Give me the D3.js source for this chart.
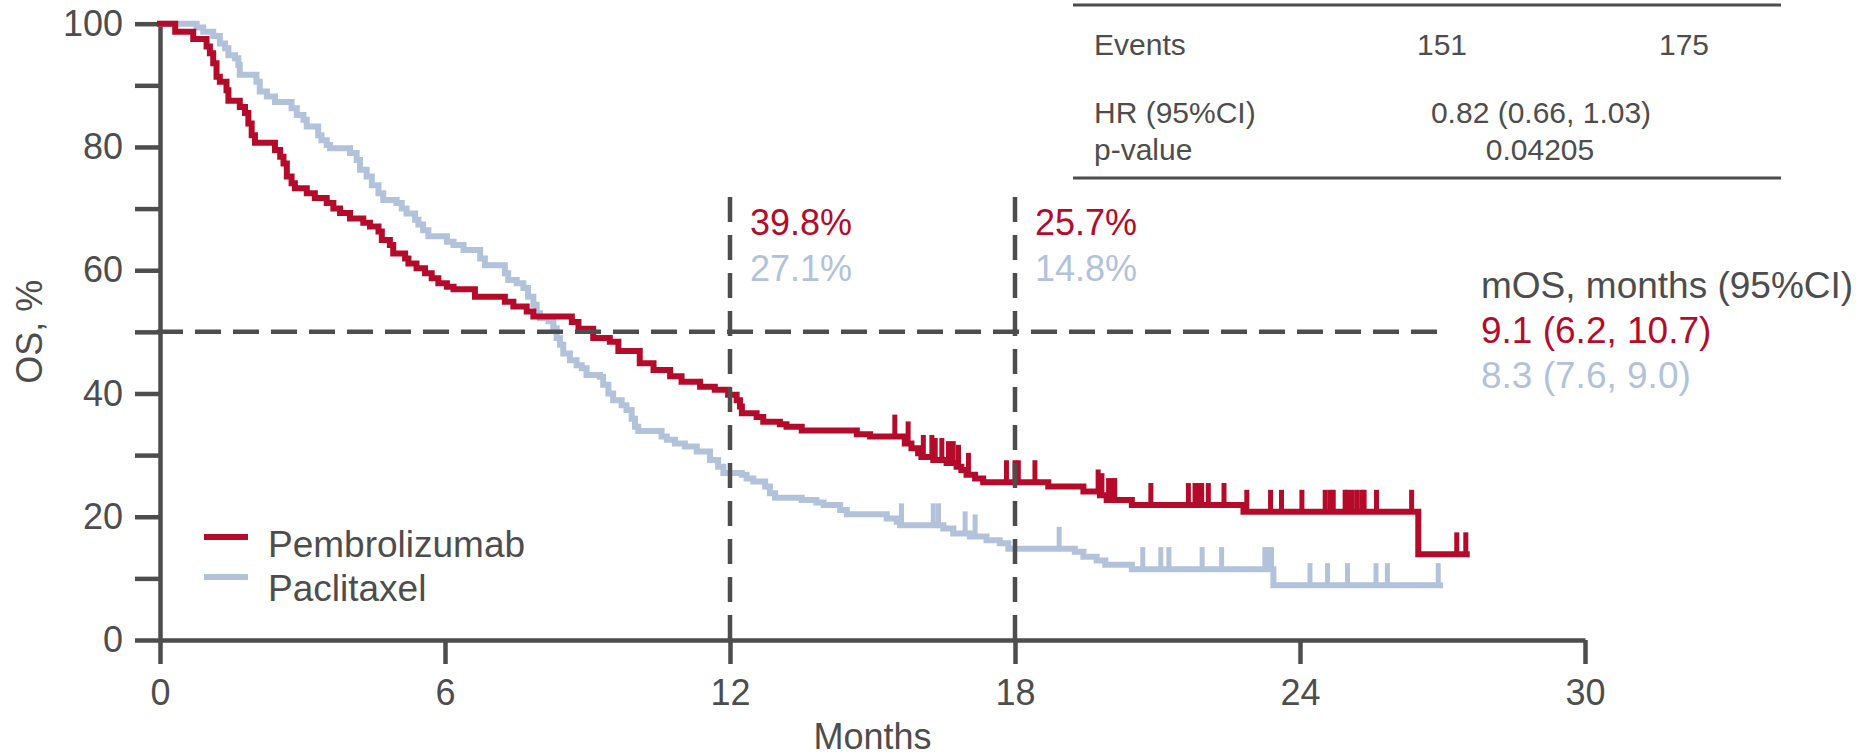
<!DOCTYPE html>
<html>
<head>
<meta charset="utf-8">
<script src="https://cdn.jsdelivr.net/npm/d3@7"></script>
<style>
  html, body { margin: 0; padding: 0; background: #fff; }
  svg { display: block; }
  text { font-family: "Liberation Sans", Arial, Helvetica, sans-serif; }
</style>
</head>
<body>
<svg id="chart" width="1859" height="755"></svg>
<script>
// ---------------- data ----------------
const xTicks = [0, 6, 12, 18, 24, 30];
const yTicks = [0, 10, 20, 30, 40, 50, 60, 70, 80, 90, 100];
const yTickLabels = ["0", "", "20", "", "40", "", "60", "", "80", "", "100"];

const seriesNames = ["Pembrolizumab", "Paclitaxel"];

const pembroTimes = [0, 0.32, 0.70, 0.98, 1.05, 1.12, 1.19, 1.26, 1.40, 1.44, 1.68, 1.79, 1.86, 1.93, 2.00,
  2.42, 2.53, 2.60, 2.67, 2.77, 2.84, 3.09, 3.26, 3.51, 3.65, 3.79, 4.00, 4.28, 4.42, 4.60, 4.67, 4.84,
  4.91, 5.16, 5.23, 5.40, 5.58, 5.72, 5.86, 6.04, 6.18, 6.63, 7.26, 7.44, 7.72, 7.86, 8.67, 8.81, 9.12,
  9.47, 9.65, 10.10, 10.39, 10.74, 10.98, 11.37, 11.68, 11.96, 12.14, 12.21, 12.25, 12.56, 12.70, 13.05,
  13.19, 13.51, 14.67, 14.95, 15.68, 15.82, 15.96, 16.03, 16.28, 16.56, 16.77, 16.87, 16.98, 17.16, 17.33,
  18.70, 19.44, 19.79, 19.93, 20.46, 22.81, 26.49];
const pembroSurv = [100, 98.7, 97.5, 96.3, 95.2, 93.6, 91.4, 90.6, 89.2, 87.5, 86.5, 85.5, 83.8, 81.9, 80.7,
  79.5, 78.4, 77.3, 75.2, 74.1, 73.3, 72.5, 71.7, 70.9, 70.0, 69.3, 68.4, 67.7, 67.1, 66.3, 64.9, 64.1,
  62.7, 61.9, 61.1, 60.3, 59.5, 58.7, 57.9, 57.3, 56.9, 55.7, 54.9, 54.1, 53.3, 52.5, 51.6, 50.5, 49.0,
  48.4, 46.9, 44.9, 43.8, 42.8, 41.9, 41.1, 40.6, 39.8, 38.9, 37.9, 36.8, 36.2, 35.4, 35.0,
  34.6, 34.0, 33.4, 33.0, 31.9, 31.1, 30.3, 29.7, 29.2, 28.7, 28.1, 27.6, 26.8, 26.2, 25.6,
  24.9, 24.1, 23.5, 22.7, 21.9, 20.8, 13.9];
const pembroEnd = 27.51;
const pembroCensor = [15.47, 15.75, 16.07, 16.25, 16.32, 16.46, 16.60, 16.70, 16.81, 17.02, 17.82, 18.00,
  18.07, 18.42, 19.75, 19.83, 19.97, 20.05, 20.10, 20.86, 21.65, 21.79, 21.86, 21.93, 22.07, 22.40, 22.88,
  23.38, 23.61, 24.04, 24.53, 24.63, 24.70, 24.95, 25.00, 25.10, 25.20, 25.30, 25.35, 25.61, 26.35,
  27.30, 27.49];

const paclitTimes = [0, 0.77, 0.91, 1.12, 1.26, 1.37, 1.44, 1.58, 1.65, 1.68, 2.03, 2.10, 2.25, 2.42, 2.77,
  2.88, 3.02, 3.09, 3.33, 3.40, 3.51, 3.58, 4.00, 4.14, 4.21, 4.35, 4.46, 4.60, 4.70, 4.98, 5.09, 5.19,
  5.37, 5.44, 5.54, 5.65, 6.04, 6.18, 6.39, 6.74, 6.84, 7.26, 7.33, 7.51, 7.65, 7.75, 7.86, 7.93, 8.00,
  8.18, 8.28, 8.35, 8.42, 8.49, 8.63, 8.77, 8.88, 8.98, 9.26, 9.33, 9.44, 9.54, 9.72, 9.82, 9.93, 10.00,
  10.07, 10.56, 10.67, 10.84, 11.05, 11.30, 11.58, 11.75, 11.86, 12.25, 12.35, 12.49, 12.74, 12.84, 12.95,
  13.51, 13.82, 13.97, 14.32, 14.46, 15.30, 15.51, 15.58, 16.49, 16.70, 17.05, 17.40, 17.68, 17.86, 19.26,
  19.44, 19.72, 19.90, 20.46, 23.44];
const paclitSurv = [100, 99.4, 98.7, 98.0, 96.8, 96.0, 94.9, 94.4, 93.3, 91.7, 90.6, 89.0, 88.2, 87.3, 86.3,
  85.2, 84.4, 83.3, 81.9, 81.1, 80.3, 79.8, 79.0, 77.9, 76.3, 75.2, 73.8, 72.5, 71.4, 70.9, 70.0, 69.2,
  68.2, 67.4, 66.5, 65.5, 64.6, 64.1, 63.3, 61.9, 60.8, 59.5, 58.4, 57.9, 57.1, 55.7, 54.4, 53.0, 52.2,
  51.7, 50.6, 49.0, 47.9, 46.5, 45.4, 44.6, 44.1, 43.0, 42.7, 41.4, 40.0, 38.9, 38.1, 37.3, 35.9, 34.6,
  33.9, 33.0, 32.5, 31.9, 31.4, 30.6, 29.2, 28.1, 27.1, 26.8, 26.2, 25.7, 24.9, 23.8, 23.1,
  22.7, 22.3, 21.9, 21.1, 20.4, 19.7, 19.2, 18.6, 18.1, 17.3, 16.8, 16.2, 15.7, 14.8, 14.3,
  13.5, 12.9, 12.2, 11.5, 8.9];
const paclitEnd = 26.95;
const paclitCensor = [15.61, 16.28, 16.39, 16.95, 17.16, 18.93, 20.69, 21.07, 21.24, 21.94, 22.35, 23.26,
  23.33, 23.40, 24.21, 24.58, 25.00, 25.60, 25.84, 26.91];

const landmarkMonths = [12, 18];
const landmarkPembro = ["39.8%", "25.7%"];
const landmarkPaclit = ["27.1%", "14.8%"];
const medianLevel = 50;
const mosHeader = "mOS, months (95%CI)";
const mosPembro = "9.1 (6.2, 10.7)";
const mosPaclit = "8.3 (7.6, 9.0)";

const tableRowLabels = ["Events", "HR (95%CI)", "p-value"];
const eventsValues = ["151", "175"];
const hrValue = "0.82 (0.66, 1.03)";
const pValue = "0.04205";

// ---------------- styles ----------------
const RED = "#b50b2b";
const BLUE = "#b2c2db";
const GRAY = "#4d4d4d";
const FS = 36;
const FS_L = 37;

// ---------------- layout ----------------
const svg = d3.select("#chart");
const x = d3.scaleLinear().domain([0, 30]).range([160, 1585]);
const y = d3.scaleLinear().domain([0, 100]).range([640, 23.7]);

// axes
const xAxis = d3.axisBottom(x).tickValues(xTicks).tickSize(24).tickSizeOuter(0).tickPadding(15);
const gx = svg.append("g").attr("transform", "translate(0,640)").call(xAxis);
gx.select(".domain").attr("stroke", GRAY).attr("stroke-width", 4.5);
gx.selectAll(".tick line").attr("stroke", GRAY).attr("stroke-width", 4.5);
gx.selectAll(".tick text").attr("fill", GRAY).style("font-size", FS + "px")
  .style("font-family", '"Liberation Sans", Arial, sans-serif');

const yAxis = d3.axisLeft(y).tickValues(yTicks).tickSize(25).tickSizeOuter(0).tickPadding(12)
  .tickFormat((d, i) => yTickLabels[i]);
const gy = svg.append("g").attr("transform", "translate(160,0)").call(yAxis);
gy.select(".domain").attr("stroke", GRAY).attr("stroke-width", 4.5);
gy.selectAll(".tick line").attr("stroke", GRAY).attr("stroke-width", 4.5);
gy.selectAll(".tick text").attr("fill", GRAY).style("font-size", FS + "px")
  .style("font-family", '"Liberation Sans", Arial, sans-serif');

// axis titles
svg.append("text").attr("x", x(15)).attr("y", 749).attr("text-anchor", "middle")
  .attr("fill", GRAY).style("font-size", FS + "px").text("Months");
svg.append("text").attr("transform", `translate(42,${y(50)}) rotate(-90)`).attr("text-anchor", "middle")
  .attr("fill", GRAY).style("font-size", FS + "px").text("OS, %");

// curves
function survAt(times, surv, t) {
  const i = d3.bisectRight(times, t) - 1;
  return surv[Math.max(0, i)];
}
const line = d3.line().x(d => x(d[0])).y(d => y(d[1])).curve(d3.curveStepAfter);

function drawSeries(times, surv, end, censor, color) {
  const pts = times.map((t, i) => [t, surv[i]]);
  pts.push([end, surv[surv.length - 1]]);
  const g = svg.append("g");
  g.append("path").datum(pts).attr("d", line).attr("fill", "none")
    .attr("stroke", color).attr("stroke-width", 6).attr("stroke-linejoin", "miter").attr("stroke-linecap", "square");
  g.selectAll("line.cens").data(censor).enter().append("line")
    .attr("x1", d => x(d)).attr("x2", d => x(d))
    .attr("y1", d => y(survAt(times, surv, d)) + 2)
    .attr("y2", d => y(survAt(times, surv, d)) - 22)
    .attr("stroke", color).attr("stroke-width", 5);
}
drawSeries(paclitTimes, paclitSurv, paclitEnd, paclitCensor, BLUE);
drawSeries(pembroTimes, pembroSurv, pembroEnd, pembroCensor, RED);

// reference lines
svg.append("line").attr("x1", 157).attr("x2", 1446).attr("y1", y(medianLevel)).attr("y2", y(medianLevel))
  .attr("stroke", GRAY).attr("stroke-width", 4.5).attr("stroke-dasharray", "26,12");
landmarkMonths.forEach((m, i) => {
  svg.append("line").attr("x1", x(m)).attr("x2", x(m)).attr("y1", 197).attr("y2", 640)
    .attr("stroke", GRAY).attr("stroke-width", 4.5).attr("stroke-dasharray", "25,13");
  svg.append("text").attr("x", x(m) + 20).attr("y", 235).attr("fill", RED)
    .style("font-size", FS + "px").text(landmarkPembro[i]);
  svg.append("text").attr("x", x(m) + 20).attr("y", 281).attr("fill", BLUE)
    .style("font-size", FS + "px").text(landmarkPaclit[i]);
});

// median text
svg.append("text").attr("x", 1481).attr("y", 298).attr("fill", GRAY).style("font-size", FS_L + "px").text(mosHeader);
svg.append("text").attr("x", 1481).attr("y", 343).attr("fill", RED).style("font-size", FS_L + "px").text(mosPembro);
svg.append("text").attr("x", 1481).attr("y", 388).attr("fill", BLUE).style("font-size", FS_L + "px").text(mosPaclit);

// legend
const legendColors = [RED, BLUE];
const legendY = [537, 577];
seriesNames.forEach((n, i) => {
  svg.append("line").attr("x1", 204).attr("x2", 248).attr("y1", legendY[i]).attr("y2", legendY[i])
    .attr("stroke", legendColors[i]).attr("stroke-width", 6);
  svg.append("text").attr("x", 268).attr("y", legendY[i] + 9 + (i === 1 ? 3 : 0) - (i === 0 ? 1 : 0))
    .attr("dy", "0.32em").attr("fill", GRAY).style("font-size", FS_L + "px").text(n);
});

// table
const TFS = 30;
svg.append("line").attr("x1", 1073).attr("x2", 1781).attr("y1", 5).attr("y2", 5)
  .attr("stroke", GRAY).attr("stroke-width", 3);
svg.append("line").attr("x1", 1073).attr("x2", 1781).attr("y1", 178).attr("y2", 178)
  .attr("stroke", GRAY).attr("stroke-width", 3);
const rowY = [55, 123, 160];
tableRowLabels.forEach((l, i) => {
  svg.append("text").attr("x", 1094).attr("y", rowY[i]).attr("fill", GRAY).style("font-size", TFS + "px").text(l);
});
const evX = [1442, 1684];
eventsValues.forEach((v, i) => {
  svg.append("text").attr("x", evX[i]).attr("y", rowY[0]).attr("text-anchor", "middle")
    .attr("fill", GRAY).style("font-size", TFS + "px").text(v);
});
svg.append("text").attr("x", 1541).attr("y", rowY[1]).attr("text-anchor", "middle")
  .attr("fill", GRAY).style("font-size", TFS + "px").text(hrValue);
svg.append("text").attr("x", 1540).attr("y", rowY[2]).attr("text-anchor", "middle")
  .attr("fill", GRAY).style("font-size", TFS + "px").text(pValue);
</script>
</body>
</html>
